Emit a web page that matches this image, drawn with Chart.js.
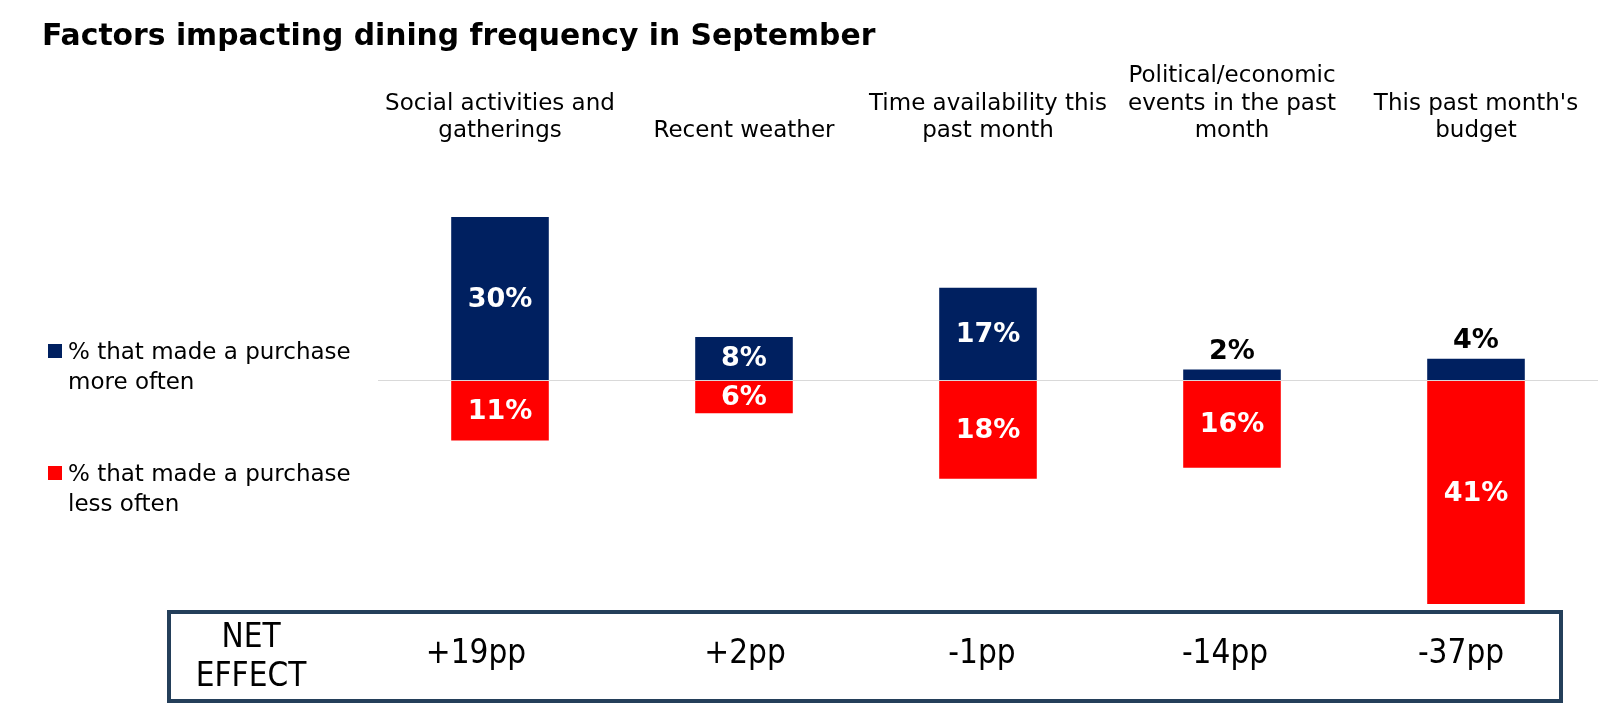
<!DOCTYPE html>
<html lang="en">

<head>
  <meta charset="UTF-8">
  <title>Factors impacting dining frequency in September</title>
  <style>
    :root {
      --font: 'DejaVu Sans', Verdana, sans-serif;
      --navy: #002060;
      --red: #FF0000;
      --box-color: #243F5A;
    }

    body {
      margin: 0;
      background: #fff;
      font-family: var(--font);
      color: #000;
    }

    #wrap {
      position: relative;
      width: 1602px;
      height: 708px;
      overflow: hidden;
    }

    #chart {
      position: absolute;
      left: 0;
      top: 0;
    }

    .title {
      position: absolute;
      left: 42px;
      top: 20px;
      font-size: 29.8px;
      line-height: 30px;
      font-weight: bold;
      white-space: nowrap;
    }

    .legend-item {
      position: absolute;
      left: 48px;
      font-size: 23px;
      line-height: 29.6px;
    }

    .legend-item .swatch {
      position: absolute;
      left: 0;
      top: 7px;
      width: 14px;
      height: 14px;
    }

    .legend-item .text {
      margin-left: 20px;
      white-space: nowrap;
    }

    .net-box {
      position: absolute;
      left: 167px;
      top: 610px;
      width: 1396px;
      height: 93px;
      box-sizing: border-box;
      border: 4px solid var(--box-color);
    }

    .net {
      position: absolute;
      transform: translateX(-50%);
      font-family: 'DejaVu Sans Condensed', 'DejaVu Sans', sans-serif;
      font-stretch: condensed;
      font-size: 33px;
      line-height: 38.5px;
      text-align: center;
      white-space: nowrap;
    }
  </style>
  <script src="https://cdn.jsdelivr.net/npm/chart.js@4.4.4/dist/chart.umd.js"></script>
</head>

<body>
  <div id="wrap">
    <canvas id="chart" width="1602" height="708"></canvas>
    <div class="title">Factors impacting dining frequency in September</div>

    <div class="legend-item" style="top: 337px;">
      <span class="swatch" style="background: var(--navy);"></span>
      <div class="text">% that made a purchase<br>more often</div>
    </div>
    <div class="legend-item" style="top: 459px;">
      <span class="swatch" style="background: var(--red);"></span>
      <div class="text">% that made a purchase<br>less often</div>
    </div>

    <div class="net-box"></div>
    <div class="net" style="left: 251px; top: 617px;">NET<br>EFFECT</div>
    <div id="net_values"></div>
  </div>
</body>
<script>
  const categories = [
    ['Social activities and', 'gatherings'],
    ['Recent weather'],
    ['Time availability this', 'past month'],
    ['Political/economic', 'events in the past', 'month'],
    ["This past month's", 'budget']
  ];
  const moreOften = [30, 8, 17, 2, 4];
  const lessOften = [11, 6, 18, 16, 41];

  // x positions of the NET EFFECT figures in the box
  const netPositions = [476, 745, 982, 1225, 1461];

  const labelFont = "bold 27px 'DejaVu Sans', Verdana, sans-serif";

  // value labels: inside the bar, or just above when the bar is too short
  const valueLabels = {
    id: 'valueLabels',
    afterDatasetsDraw(chart) {
      const ctx = chart.ctx;
      ctx.save();
      ctx.font = labelFont;
      ctx.textAlign = 'center';
      chart.data.datasets.forEach((ds, di) => {
        const meta = chart.getDatasetMeta(di);
        meta.data.forEach((bar, i) => {
          const value = Math.abs(ds.data[i]);
          const text = value + '%';
          if (value < 5) {
            ctx.fillStyle = '#000';
            ctx.textBaseline = 'alphabetic';
            ctx.fillText(text, bar.x, Math.min(bar.y, bar.base) - 11);
          } else {
            ctx.fillStyle = '#fff';
            ctx.textBaseline = 'middle';
            ctx.fillText(text, bar.x, (bar.y + bar.base) / 2 + 1);
          }
        });
      });
      ctx.restore();
    }
  };

  const chart = new Chart('chart', {
    type: 'bar',
    data: {
      labels: categories,
      datasets: [{
        label: '% that made a purchase more often',
        data: moreOften,
        backgroundColor: '#002060'
      },
      {
        label: '% that made a purchase less often',
        data: lessOften.map(v => -v),
        backgroundColor: '#FF0000'
      }]
    },
    options: {
      responsive: false,
      animation: false,
      layout: {
        padding: { left: 378, right: 4, top: 0, bottom: 104 }
      },
      datasets: {
        bar: {
          categoryPercentage: 1,
          barPercentage: 0.4
        }
      },
      plugins: {
        legend: { display: false },
        title: { display: false },
        tooltip: { enabled: false }
      },
      scales: {
        x: {
          stacked: true,
          position: 'top',
          grid: { display: false, drawTicks: false },
          border: { display: false },
          ticks: {
            color: '#000',
            font: { family: "'DejaVu Sans', Verdana, sans-serif", size: 23, lineHeight: 1.2 },
            padding: 72,
            maxRotation: 0,
            autoSkip: false
          },
          afterFit(scale) {
            // the big label gap should not eat into the sides
            scale.height = 217;
            scale.paddingLeft = 0;
            scale.paddingRight = 0;
          }
        },
        y: {
          stacked: true,
          min: -41,
          max: 30,
          ticks: { display: false, stepSize: 10 },
          border: { display: false },
          grid: {
            drawTicks: false,
            lineWidth: 1,
            color: ctx => ctx.tick && ctx.tick.value === 0 ? '#d9d9d9' : 'rgba(0,0,0,0)'
          },
          afterFit(scale) {
            scale.width = 0;
          }
        }
      }
    },
    plugins: [valueLabels]
  });

  // NET EFFECT row, worked out from the two series
  const netHolder = document.getElementById('net_values');
  moreOften.forEach((m, i) => {
    const net = m - lessOften[i];
    const el = document.createElement('div');
    el.className = 'net';
    el.style.left = netPositions[i] + 'px';
    el.style.top = '633px';
    el.textContent = (net > 0 ? '+' : '') + net + 'pp';
    netHolder.appendChild(el);
  });
</script>

</html>
